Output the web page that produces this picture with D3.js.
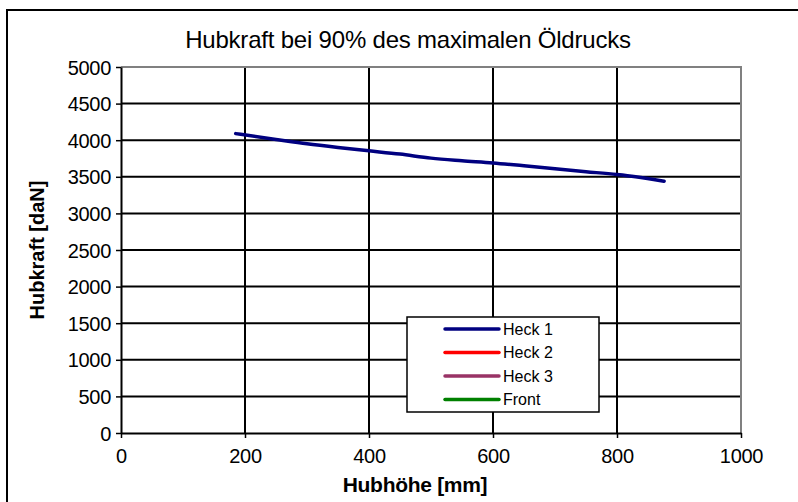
<!DOCTYPE html>
<html>
<head>
<meta charset="utf-8">
<script src="https://cdn.jsdelivr.net/npm/d3@7"></script>
<style>
  body { margin: 0; background: #fff; }
  text { font-family: "Liberation Sans", Arial, sans-serif; fill: #000; }
</style>
</head>
<body>
<div id="chart"></div>
<script>
// Hubhöhe [mm] vs Hubkraft [daN], only "Heck 1" has data
const hubhoehe = [185, 250, 300, 350, 400, 450, 500, 550, 600, 650, 700, 750, 800, 830, 876];
const heck1 = [4090, 4010, 3950, 3900, 3855, 3810, 3755, 3720, 3690, 3650, 3610, 3570, 3530, 3500, 3440];

const seriesNames = ["Heck 1", "Heck 2", "Heck 3", "Front"];
const seriesColors = ["#000080", "#ff0000", "#993366", "#008000"];

const xTicks = [0, 200, 400, 600, 800, 1000];
const yTicks = [0, 500, 1000, 1500, 2000, 2500, 3000, 3500, 4000, 4500, 5000];

const width = 798;
const height = 502;
const margin = { top: 67, right: 57, bottom: 69, left: 121 };

const svg = d3
  .select("#chart")
  .append("svg")
  .attr("width", width)
  .attr("height", height);

svg.append("rect").attr("width", width).attr("height", height).attr("fill", "#fff");

// outer chart border
svg
  .append("rect")
  .attr("x", 7)
  .attr("y", 10)
  .attr("width", 800)
  .attr("height", 500)
  .attr("fill", "none")
  .attr("stroke", "#000")
  .attr("stroke-width", 2);

const x = d3.scaleLinear().domain([0, 1000]).range([margin.left, width - margin.right]);
const y = d3.scaleLinear().domain([0, 5000]).range([height - margin.bottom, margin.top]);

// gridlines
svg
  .append("g")
  .selectAll("line")
  .data(yTicks.filter(d => d > 0 && d < 5000))
  .enter()
  .append("line")
  .attr("x1", x(0))
  .attr("x2", x(1000))
  .attr("y1", d => y(d))
  .attr("y2", d => y(d))
  .attr("stroke", "#000")
  .attr("stroke-width", 2);

svg
  .append("g")
  .selectAll("line")
  .data(xTicks.filter(d => d > 0 && d < 1000))
  .enter()
  .append("line")
  .attr("x1", d => x(d))
  .attr("x2", d => x(d))
  .attr("y1", y(0))
  .attr("y2", y(5000))
  .attr("stroke", "#000")
  .attr("stroke-width", 2);

// plot area top/right border (grey)
svg
  .append("path")
  .attr("d", "M" + x(0) + "," + y(5000) + "H" + x(1000) + "V" + y(0))
  .attr("fill", "none")
  .attr("stroke", "#808080")
  .attr("stroke-width", 2);

// axes
const fmt = d3.format("d");
const xAxis = svg
  .append("g")
  .attr("transform", "translate(0," + y(0) + ")")
  .call(d3.axisBottom(x).tickValues(xTicks).tickFormat(fmt).tickSize(5).tickSizeOuter(0).tickPadding(8));

const yAxis = svg
  .append("g")
  .attr("transform", "translate(" + x(0) + ",0)")
  .call(d3.axisLeft(y).tickValues(yTicks).tickFormat(fmt).tickSize(5).tickSizeOuter(0).tickPadding(5));

[xAxis, yAxis].forEach(function(g) {
  g.select(".domain").attr("stroke", "#000").attr("stroke-width", 2);
  g.selectAll(".tick line").attr("stroke", "#000").attr("stroke-width", 1.5);
  g.selectAll(".tick text")
    .attr("fill", "#000")
    .style("font-size", "20px")
    .style("letter-spacing", "-0.3px");
});
yAxis.selectAll(".tick text").attr("dy", "0.35em");
xAxis.selectAll(".tick text").attr("dy", "0.85em");

// line
const line = d3
  .line()
  .x(d => x(d[0]))
  .y(d => y(d[1]))
  .curve(d3.curveMonotoneX);

svg
  .append("path")
  .datum(hubhoehe.map((h, i) => [h, heck1[i]]))
  .attr("d", line)
  .attr("fill", "none")
  .attr("stroke", seriesColors[0])
  .attr("stroke-width", 3.5)
  .attr("stroke-linecap", "round");

// title
svg
  .append("text")
  .attr("x", 408)
  .attr("y", 48)
  .attr("text-anchor", "middle")
  .style("font-size", "24px")
  .style("letter-spacing", "-0.2px")
  .text("Hubkraft bei 90% des maximalen Öldrucks");

// axis titles
svg
  .append("text")
  .attr("x", 415)
  .attr("y", 492)
  .attr("text-anchor", "middle")
  .style("font-size", "21px")
  .style("font-weight", "bold")
  .style("letter-spacing", "-0.3px")
  .text("Hubhöhe [mm]");

svg
  .append("text")
  .attr("transform", "translate(44,250) rotate(-90)")
  .attr("text-anchor", "middle")
  .style("font-size", "20px")
  .style("font-weight", "bold")
  .text("Hubkraft [daN]");

// legend
const legend = svg.append("g").attr("transform", "translate(407,317)");

legend
  .append("rect")
  .attr("width", 192)
  .attr("height", 95)
  .attr("fill", "#fff")
  .attr("stroke", "#000")
  .attr("stroke-width", 1.5);

const item = legend
  .selectAll(".legend")
  .data(seriesNames)
  .enter()
  .append("g")
  .attr("class", "legend")
  .attr("transform", (d, i) => "translate(0," + (12 + i * 23.5) + ")");

item
  .append("line")
  .attr("x1", 38)
  .attr("x2", 92)
  .attr("stroke", (d, i) => seriesColors[i])
  .attr("stroke-width", 3.5)
  .attr("stroke-linecap", "round");

item
  .append("text")
  .attr("x", 96)
  .attr("dy", "0.36em")
  .style("font-size", "16px")
  .text(d => d);
</script>
</body>
</html>
